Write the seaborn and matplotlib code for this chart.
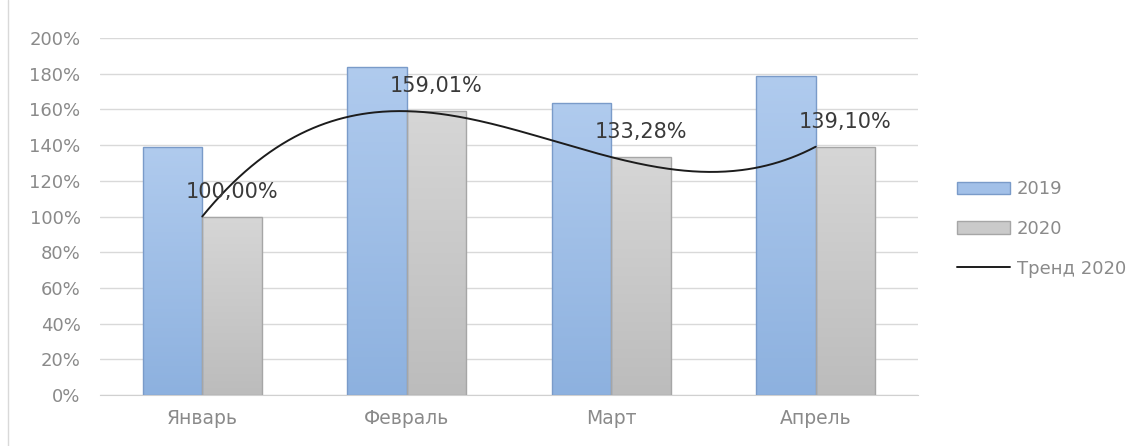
import numpy as np
import pandas as pd
import matplotlib
matplotlib.use("Agg")
import matplotlib.pyplot as plt
from matplotlib.patches import Patch
from matplotlib.lines import Line2D
from matplotlib.colors import LinearSegmentedColormap
from matplotlib.ticker import FuncFormatter
import seaborn as sns

# ── Data ─────────────────────────────────────────────
months = ["Январь", "Февраль", "Март", "Апрель"]
values_2019 = [139.0, 184.0, 163.5, 178.5]
values_2020 = [100.00, 159.01, 133.28, 139.10]
labels_2020 = ["100,00%", "159,01%", "133,28%", "139,10%"]
years = ["2019", "2020"]

df = pd.DataFrame({
    "month": months * 2,
    "year": [years[0]] * 4 + [years[1]] * 4,
    "value": values_2019 + values_2020,
})

# ── Style ────────────────────────────────────────────
sns.set_style("white")
plt.rcParams["font.family"] = ["DejaVu Sans"]

blue, blue_edge = "#a2c0e8", "#7a9bc9"
grey, grey_edge = "#cacaca", "#a6a6a6"
blue_grad = LinearSegmentedColormap.from_list("b", ["#8db1df", "#b0cbee"])
grey_grad = LinearSegmentedColormap.from_list("g", ["#bcbcbc", "#d6d6d6"])
tick_col = "#8a8a8a"

fig = plt.figure(figsize=(11.44, 4.46), dpi=100)
ax = fig.add_axes([0.0874, 0.1143, 0.7150, 0.8005])

sns.barplot(data=df, x="month", y="value", hue="year", order=months,
            palette=[blue, grey], saturation=1, width=0.58, gap=0,
            legend=False, ax=ax)

ax.set_ylim(0, 200)
ax.set_xlim(-0.5, 3.5)

# vertical gradient fill + thin edge on every bar
grad = np.linspace(0, 1, 256).reshape(-1, 1)
bars = list(ax.patches)
for bar, ec, cmap in zip(bars, [blue_edge] * 4 + [grey_edge] * 4,
                         [blue_grad] * 4 + [grey_grad] * 4):
    x0, y0 = bar.get_x(), bar.get_y()
    w, h = bar.get_width(), bar.get_height()
    im = ax.imshow(grad, extent=(x0, x0 + w, y0, y0 + h), origin="lower",
                   cmap=cmap, aspect="auto", zorder=2)
    im.set_clip_path(bar)
    bar.set_edgecolor(ec)
    bar.set_linewidth(1.0)
    bar.set_facecolor("none")
    bar.set_zorder(3)
ax.set_ylim(0, 200)
ax.set_xlim(-0.5, 3.5)

# polynomial (3rd order) trend of 2020
xs = np.arange(len(months))
coef = np.polyfit(xs, values_2020, 3)
xx = np.linspace(0, len(months) - 1, 300)
ax.plot(xx, np.polyval(coef, xx), color="#1c1c1c", lw=1.4, zorder=5)

# data labels above 2020 bars
for i, (v, lab) in enumerate(zip(values_2020, labels_2020)):
    ax.annotate(lab, (i + 0.145, v), xytext=(0, 18), textcoords="offset points",
                ha="center", va="center", fontsize=15, color="#3a3a3a", zorder=6)

ax.set_yticks(np.arange(0, 201, 20))
ax.yaxis.set_major_formatter(FuncFormatter(lambda v, p: f"{v:.0f}%"))
ax.grid(axis="y", color="#d9d9d9", lw=1)
ax.set_axisbelow(True)
for s in ["top", "right", "left"]:
    ax.spines[s].set_visible(False)
ax.spines["bottom"].set_color("#d0d0d0")
ax.tick_params(axis="both", length=0, labelcolor=tick_col)
ax.tick_params(axis="y", pad=14, labelsize=13)
ax.tick_params(axis="x", pad=10, labelsize=13.5)
ax.set_xlabel("")
ax.set_ylabel("")

handles = [Patch(facecolor=blue, edgecolor=blue_edge, label="2019"),
           Patch(facecolor=grey, edgecolor=grey_edge, label="2020"),
           Line2D([], [], color="#1c1c1c", lw=1.4, label="Тренд 2020")]
fig.legend(handles=handles, loc="center left", bbox_to_anchor=(0.8365, 0.4865),
           frameon=False, fontsize=13, labelcolor=tick_col,
           handlelength=2.95, handleheight=0.72, handletextpad=0.35,
           labelspacing=1.2, borderpad=0, borderaxespad=0)

fig.add_artist(Line2D([0.007, 0.007], [0, 1], transform=fig.transFigure,
                      color="#d9d9d9", lw=1))

fig.savefig("out.png", dpi=100)
